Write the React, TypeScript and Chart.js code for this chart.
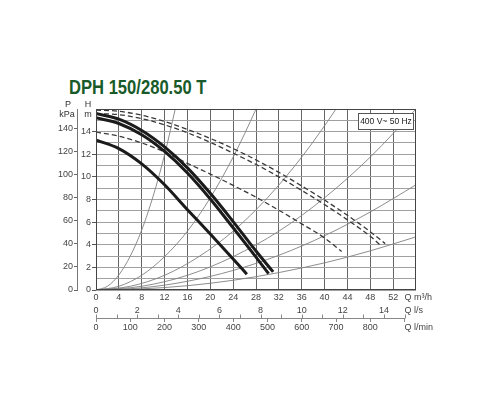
import { useEffect, useRef } from 'react';
import { Chart, registerables } from 'chart.js';

Chart.register(...registerables);

// axis tick values
const flowTicks = [0, 4, 8, 12, 16, 20, 24, 28, 32, 36, 40, 44, 48, 52];
const headTicks = [0, 1, 2, 3, 4, 5, 6, 7, 8, 9, 10, 11, 12, 13, 14, 15, 16];
const headLabels = [0, 2, 4, 6, 8, 10, 12, 14];
const pressureTicks = [0, 20, 40, 60, 80, 100, 120, 140];
const lpsTicks = [0, 1, 2, 3, 4, 5, 6, 7, 8, 9, 10, 11, 12, 13, 14, 15];
const lpsLabels = [0, 2, 4, 6, 8, 10, 12, 14];
const lpmTicks = [0, 100, 200, 300, 400, 500, 600, 700, 800, 900];
const lpmLabels = [0, 100, 200, 300, 400, 500, 600, 700, 800];

// pump curves (Q m3/h, H m)
const pumpTopQ = [0, 4, 8, 12, 16, 20, 24, 28, 31];
const pumpTopH = [15.6, 15.1, 14.1, 12.65, 10.8, 8.55, 6.05, 3.45, 1.6];
const pumpMidQ = [0, 4, 8, 12, 16, 20, 24, 28, 30.2];
const pumpMidH = [15.22, 14.72, 13.72, 12.25, 10.35, 8.05, 5.5, 2.9, 1.45];
const pumpLowQ = [0, 4, 8, 12, 16, 20, 24, 26.4];
const pumpLowH = [13.25, 12.5, 11.15, 9.3, 7.1, 4.95, 2.75, 1.4];

// dashed curves
const dashTopQ = [0, 4, 8, 12, 16, 20, 24, 28, 32, 36, 40, 44, 48, 50.6];
const dashTopH = [15.9, 15.8, 15.45, 14.9, 14.2, 13.4, 12.5, 11.5, 10.4, 9.2, 7.95, 6.6, 5.15, 4.1];
const dashMidQ = [0, 4, 8, 12, 16, 20, 24, 28, 32, 36, 40, 44, 48, 50];
const dashMidH = [15.6, 15.5, 15.15, 14.6, 13.9, 13.05, 12.1, 11.1, 10.0, 8.8, 7.55, 6.2, 4.75, 3.85];
const dashLowQ = [0, 4, 8, 12, 16, 20, 24, 28, 32, 36, 40, 43];
const dashLowH = [13.95, 13.6, 13.0, 12.2, 11.2, 10.25, 9.25, 8.2, 7.05, 5.85, 4.6, 3.4];

// system curves
const sys1Q = [0, 2, 4, 6, 8, 10, 12, 14];
const sys1H = [0, 0.33, 1.33, 3.0, 5.3, 8.3, 11.95, 16.3];
const sys2Q = [0, 4, 8, 12, 16, 20, 24, 28, 30];
const sys2H = [0, 0.33, 1.3, 2.95, 5.2, 8.15, 11.75, 16.0, 18.4];
const sys3Q = [0, 6, 12, 18, 24, 30, 36, 42, 45];
const sys3H = [0, 0.33, 1.3, 2.95, 5.2, 8.15, 11.75, 16.0, 18.4];
const sys4Q = [0, 8, 16, 24, 32, 40, 48, 56];
const sys4H = [0, 0.33, 1.3, 2.95, 5.2, 8.15, 11.75, 16.0];
const sys5Q = [0, 8, 16, 24, 32, 40, 48, 56];
const sys5H = [0, 0.19, 0.77, 1.73, 3.07, 4.8, 6.9, 9.3];
const sys6Q = [0, 8, 16, 24, 32, 40, 48, 56];
const sys6H = [0, 0.1, 0.38, 0.86, 1.54, 2.4, 3.46, 4.7];

const FONT = "'Liberation Sans', Arial, sans-serif";

const pts = (qs: number[], hs: number[]) => qs.map((q, i) => ({ x: q, y: hs[i] }));

const solid = (qs: number[], hs: number[]) => ({
  data: pts(qs, hs),
  borderColor: '#1b1b1b',
  borderWidth: 3,
  pointRadius: 0,
  cubicInterpolationMode: 'monotone' as const,
});
const dashed = (qs: number[], hs: number[]) => ({
  data: pts(qs, hs),
  borderColor: '#3a3a3a',
  borderWidth: 1.3,
  borderDash: [5, 3],
  pointRadius: 0,
  cubicInterpolationMode: 'monotone' as const,
});
const thin = (qs: number[], hs: number[]) => ({
  data: pts(qs, hs),
  borderColor: '#808080',
  borderWidth: 0.9,
  pointRadius: 0,
  cubicInterpolationMode: 'monotone' as const,
});

const decorPlugin = {
  id: 'decor',
  afterDraw(chart: any) {
    const { ctx, chartArea: a, scales } = chart;
    ctx.save();
    // plot frame
    ctx.strokeStyle = '#444';
    ctx.lineWidth = 1;
    ctx.strokeRect(
      Math.round(a.left) + 0.5,
      Math.round(a.top) + 0.5,
      Math.round(a.right - a.left) - 1,
      Math.round(a.bottom - a.top) - 1
    );

    // voltage box
    const bx = Math.round(a.right - 58) + 0.5;
    const by = Math.round(a.top + 4) + 0.5;
    ctx.fillStyle = '#fff';
    ctx.fillRect(bx, by, 55, 16);
    ctx.strokeStyle = '#555';
    ctx.strokeRect(bx, by, 55, 16);
    ctx.fillStyle = '#222';
    ctx.font = `8.5px ${FONT}`;
    ctx.textAlign = 'center';
    ctx.textBaseline = 'middle';
    ctx.fillText('400 V~ 50 Hz', bx + 27.5, by + 8.5);

    // axis headers
    ctx.fillStyle = '#333';
    ctx.font = `9px ${FONT}`;
    const p = scales.pressure;
    const h = scales.y;
    ctx.fillText('P', p.right - 9, a.top - 4);
    ctx.fillText('kPa', p.right - 10, a.top + 6);
    ctx.fillText('H', h.left + 11, a.top - 4);
    ctx.fillText('m', h.left + 11, a.top + 6);

    // secondary flow axis line + l/s ticks
    const ls = scales.lps;
    const lm = scales.lpm;
    const lineY = Math.round(lm.top) + 0.5;
    ctx.strokeStyle = '#888';
    ctx.beginPath();
    ctx.moveTo(lm.getPixelForValue(lpmTicks[0]), lineY);
    ctx.lineTo(lm.getPixelForValue(lpmTicks[lpmTicks.length - 1]), lineY);
    for (const v of lpsTicks) {
      const x = Math.round(ls.getPixelForValue(v)) + 0.5;
      ctx.moveTo(x, lineY);
      ctx.lineTo(x, lineY - 4);
    }
    ctx.stroke();

    // unit labels
    ctx.fillStyle = '#444';
    ctx.textAlign = 'left';
    const qx = lm.getPixelForValue(lpmTicks[lpmTicks.length - 1]);
    ctx.fillText('Q m³/h', qx, scales.x.top + 7.5);
    ctx.fillText('Q l/s', qx, ls.top + 8.5);
    ctx.fillText('Q l/min', qx, lm.top + 9.5);
    ctx.restore();
  },
};

const tickFont = { family: FONT, size: 9 };

export default function App() {
  const canvasRef = useRef<HTMLCanvasElement>(null);

  useEffect(() => {
    if (!canvasRef.current) return;
    const chart = new Chart(canvasRef.current, {
      type: 'line',
      data: {
        datasets: [
          solid(pumpTopQ, pumpTopH),
          solid(pumpMidQ, pumpMidH),
          solid(pumpLowQ, pumpLowH),
          dashed(dashTopQ, dashTopH),
          dashed(dashMidQ, dashMidH),
          dashed(dashLowQ, dashLowH),
          thin(sys1Q, sys1H),
          thin(sys2Q, sys2H),
          thin(sys3Q, sys3H),
          thin(sys4Q, sys4H),
          thin(sys5Q, sys5H),
          thin(sys6Q, sys6H),
        ] as any,
      },
      options: {
        responsive: false,
        animation: false,
        layout: { padding: { left: 50, right: 84, top: 109, bottom: 66 } },
        plugins: { legend: { display: false }, tooltip: { enabled: false } },
        scales: {
          x: {
            type: 'linear',
            position: 'bottom',
            min: 0,
            max: 56,
            weight: 0,
            afterBuildTicks: (s: any) => {
              s.ticks = flowTicks.map((v) => ({ value: v }));
            },
            afterFit: (s: any) => {
              s.height = 12;
            },
            grid: { color: '#666', drawTicks: false },
            border: { display: false },
            ticks: { padding: 2, color: '#444', font: tickFont, maxRotation: 0, autoSkip: false },
          },
          lps: {
            type: 'linear',
            position: 'bottom',
            min: 0,
            max: 56 / 3.6,
            weight: 1,
            afterBuildTicks: (s: any) => {
              s.ticks = lpsTicks.map((v) => ({ value: v }));
            },
            afterFit: (s: any) => {
              s.height = 16;
            },
            grid: { display: false, drawTicks: false },
            border: { display: false },
            ticks: {
              padding: 3,
              color: '#444',
              font: tickFont,
              maxRotation: 0,
              autoSkip: false,
              callback: (v: any) => (lpsLabels.includes(Number(v)) ? String(v) : ''),
            },
          },
          lpm: {
            type: 'linear',
            position: 'bottom',
            min: 0,
            max: (56 * 1000) / 60,
            weight: 2,
            afterBuildTicks: (s: any) => {
              s.ticks = lpmTicks.map((v) => ({ value: v }));
            },
            afterFit: (s: any) => {
              s.height = 16;
            },
            grid: { drawOnChartArea: false, drawTicks: true, tickLength: 4, color: '#888' },
            border: { display: false },
            ticks: {
              padding: 0,
              color: '#444',
              font: tickFont,
              maxRotation: 0,
              autoSkip: false,
              callback: (v: any) => (lpmLabels.includes(Number(v)) ? String(v) : ''),
            },
          },
          y: {
            type: 'linear',
            position: 'left',
            min: 0,
            max: 16,
            weight: 0,
            afterBuildTicks: (s: any) => {
              s.ticks = headTicks.map((v) => ({ value: v }));
            },
            afterFit: (s: any) => {
              s.width = 19;
            },
            grid: {
              color: '#a0a0a0',
              drawTicks: true,
              tickLength: 4,
              tickColor: (c: any) =>
                c.tick && headLabels.includes(c.tick.value) ? '#555' : 'rgba(0,0,0,0)',
            },
            border: { display: false },
            ticks: {
              padding: 1,
              color: '#444',
              font: tickFont,
              autoSkip: false,
              callback: (v: any) => (headLabels.includes(Number(v)) ? String(v) : ''),
            },
          },
          pressure: {
            type: 'linear',
            position: 'left',
            min: 0,
            max: 16 * 9.81,
            weight: 1,
            afterBuildTicks: (s: any) => {
              s.ticks = pressureTicks.map((v) => ({ value: v }));
            },
            afterFit: (s: any) => {
              s.width = 27;
            },
            grid: { drawOnChartArea: false, drawTicks: true, tickLength: 3, color: '#666' },
            border: { display: true, color: '#777', width: 1 },
            ticks: { padding: 1, color: '#444', font: tickFont, autoSkip: false },
          },
        },
      } as any,
      plugins: [decorPlugin],
    });
    return () => chart.destroy();
  }, []);

  return (
    <div style={{ position: 'absolute', left: 0, top: 0, width: 500, height: 400, background: '#fff' }}>
      <div
        style={{
          position: 'absolute',
          left: 69,
          top: 76,
          fontFamily: "'Liberation Sans', Arial, sans-serif",
          fontWeight: 700,
          fontSize: 21,
          lineHeight: '21px',
          color: '#185a29',
          whiteSpace: 'nowrap',
          transform: 'scaleX(0.79)',
          transformOrigin: 'left top',
        }}
      >
        DPH 150/280.50 T
      </div>
      <canvas ref={canvasRef} width={500} height={400} style={{ position: 'absolute', left: 0, top: 0 }} />
    </div>
  );
}
